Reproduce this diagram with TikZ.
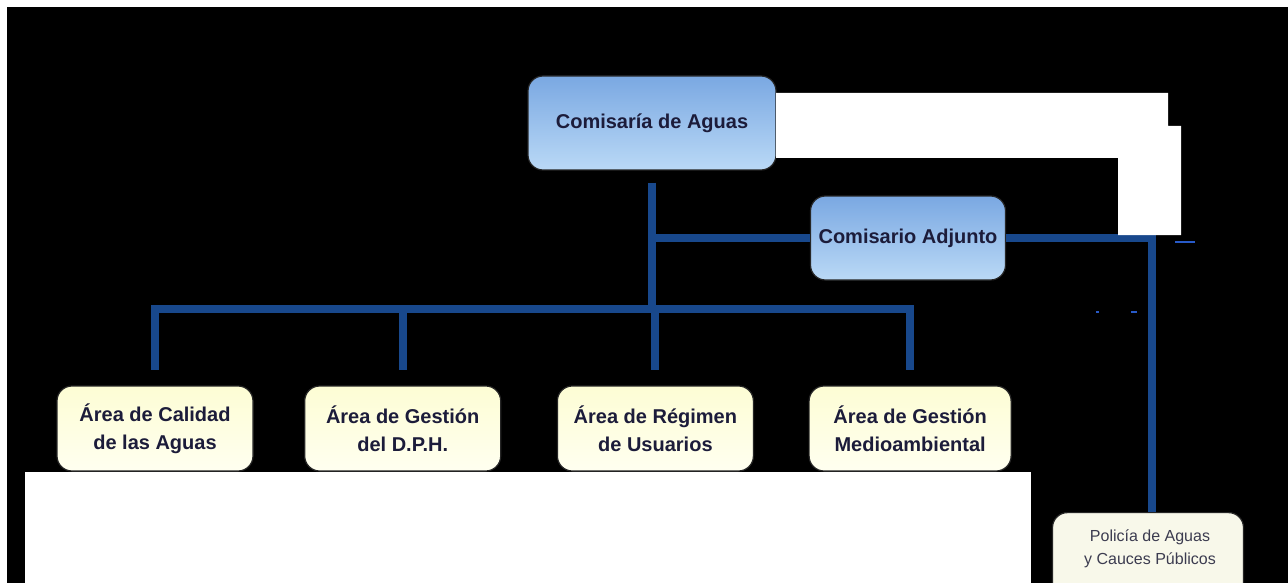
\documentclass[tikz,border=0pt]{standalone}
\usepackage{fontspec}
\setmainfont{Liberation Sans}
\usepackage{tikz}
\usetikzlibrary{positioning}
\definecolor{orgLine}{RGB}{24,72,140}
\definecolor{orgSpeck}{RGB}{40,90,200}
\definecolor{blueTop}{RGB}{122,168,226}
\definecolor{blueBot}{RGB}{186,217,246}
\definecolor{creamTop}{RGB}{253,253,212}
\definecolor{creamBot}{RGB}{255,255,240}
\definecolor{paleCream}{RGB}{248,248,234}
\definecolor{textNavy}{RGB}{28,28,58}
\definecolor{textGrey}{RGB}{60,60,80}
\newcommand{\colorTikzLine}{orgLine}

\begin{document}
\begin{tikzpicture}[x=1pt, y=-1pt,
    orgbox/.style={draw=black!85, line width=1.2pt, rounded corners=15pt, align=center,
      text=textNavy, font=\fontsize{20}{28}\selectfont\bfseries},
    chiefbox/.style={orgbox, top color=blueTop, bottom color=blueBot},
    areabox/.style={orgbox, top color=creamTop, bottom color=creamBot,
      minimum width=196pt, minimum height=85pt},
    policebox/.style={orgbox, fill=paleCream, minimum width=191pt, minimum height=95pt},
    orgline/.style={draw=\colorTikzLine, line width=8pt}]
        \useasboundingbox (0,0) rectangle (1288,583);
        \fill[white] (0,0) rectangle (1288,583);
        \fill[black] (7,7) rectangle (1288,583);

        % boxes
        \node[chiefbox, minimum width=248pt, minimum height=94pt] (comisaria) at (652,123) {Comisaría de Aguas};
        \node[chiefbox, minimum width=195pt, minimum height=84pt] (adjunto) at (908,238) {Comisario Adjunto};

        \node[areabox] (calidad) at (155,428.5) {Área de Calidad\\de las Aguas};
        \node[areabox, right=50.5pt of calidad] (gestion) {Área de Gestión\\del D.P.H.};
        \node[areabox, right=55.5pt of gestion] (regimen) {Área de Régimen\\de Usuarios};
        \node[areabox, right=54.5pt of regimen, minimum width=202pt] (medio) {Área de Gestión\\Medioambiental};

        \node[policebox, anchor=north] (policia) at (1148,512) {};
        \node[font=\fontsize{16}{23}\selectfont, text=textGrey, align=center] (policiatxt) at (1150,549) {Policía de Aguas\\y Cauces Públicos};

        % connectors
        \coordinate (bus) at (653,309);
        \coordinate (corner) at (1152,238);
        \draw[orgline] ([yshift=-12pt]comisaria.south) -- (comisaria.south |- bus);
        \draw[orgline] (comisaria.south |- adjunto.west) -- (adjunto.west);
        \draw[orgline, line cap=rect] (calidad.north |- bus) -- (medio.north |- bus);
        \foreach \n in {calidad, gestion, regimen, medio}
          \draw[orgline] (\n.north |- bus) -- ([yshift=15pt]\n.north);
        \draw[orgline, line join=miter] (adjunto.east) -- (corner) -- (corner |- policia.north);

        % stray marks
        \draw[orgSpeck, line width=1.5pt] (1175,242) -- (1195,242);
        \draw[orgSpeck, line width=1.5pt] (1096,312) -- (1099,312);
        \draw[orgSpeck, line width=1.5pt] (1131,312) -- (1137,312);

        % white masks
        \fill[white] (776,93) -- (1168,93) -- (1168,126) -- (1181,126) -- (1181,235)
          -- (1118,235) -- (1118,158) -- (776,158) -- cycle;
        \fill[white] (25,472) rectangle (1031,583);
\end{tikzpicture}
\end{document}
